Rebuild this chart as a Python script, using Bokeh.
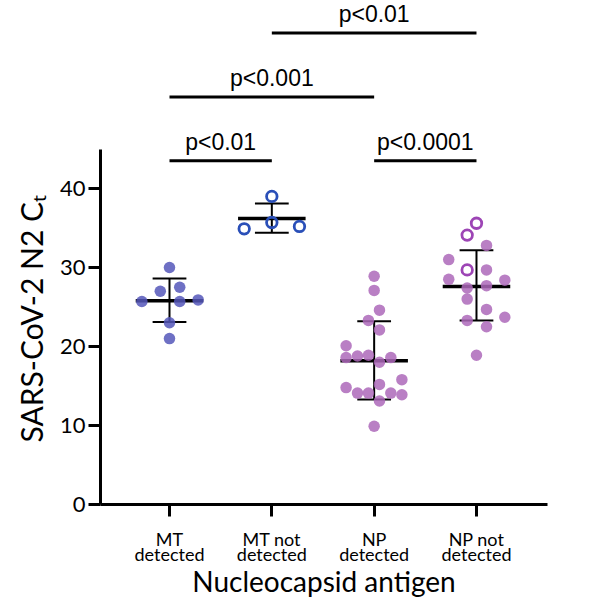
from bokeh.plotting import figure
from bokeh.models import Range1d, FixedTicker, ColumnDataSource, LinearAxis, Title
from bokeh.embed import file_html
from bokeh.resources import INLINE
from bokeh.core.properties import value

# ---- data ----
cat_top = ["MT", "MT not", "NP", "NP not"]
cat_bottom = ["detected", "detected", "detected", "detected"]
cat_pos = [1, 2, 3, 4]

mt_det_ct = [30.0, 27.0, 27.5, 25.7, 25.7, 25.9, 23.0, 21.0]
mt_det_dx = [0.0, -0.09, 0.10, -0.27, 0.10, 0.28, 0.0, 0.0]

mt_not_ct = [39.0, 34.9, 35.7, 35.2]
mt_not_dx = [0.0, -0.27, 0.0, 0.27]

np_det_ct = [28.9, 27.1, 24.6, 23.3, 22.1, 20.1, 18.6, 18.8, 18.9, 18.0,
             18.6, 15.8, 14.8, 14.1, 14.1, 15.2, 14.1, 13.9, 13.1, 9.9]
np_det_dx = [0.0, 0.0, 0.052, -0.056, 0.052, -0.274, -0.274, -0.163, -0.056, 0.052,
             0.163, 0.271, -0.274, -0.163, -0.056, 0.052, 0.163, 0.271, 0.052, 0.0]

np_not_open_ct = [35.6, 34.1, 29.7]
np_not_open_dx = [0.0, -0.091, -0.091]
np_not_ct = [32.8, 31.0, 29.7, 28.5, 28.4, 27.4, 27.7, 26.0, 24.7, 23.3, 23.7, 22.5, 18.9]
np_not_dx = [0.098, -0.271, 0.098, -0.271, 0.277, -0.091, 0.098, -0.091, 0.098, -0.091,
             0.277, 0.098, 0.0]

means = [25.8, 36.2, 18.2, 27.6]
sd_low = [23.1, 34.4, 13.3, 23.3]
sd_high = [28.6, 38.1, 23.2, 32.2]

sig_from = [1, 3, 1, 2]
sig_to = [2, 4, 3, 4]
sig_level = [43.5, 43.5, 51.6, 59.7]
sig_text = ["p<0.01", "p<0.0001", "p<0.001", "p<0.01"]

yticks = [0, 10, 20, 30, 40]

# ---- figure ----
p = figure(width=600, height=601, output_backend="svg", toolbar_location=None,
           x_range=Range1d(0.3257, 4.694), y_range=Range1d(0, 63.8),
           min_border_left=100, min_border_right=53, min_border_top=0, min_border_bottom=90)
p.frame_width = 447
p.frame_height = 504
p.outline_line_color = None
p.grid.visible = False
p.background_fill_color = "white"
p.border_fill_color = "white"

for ax in (p.xaxis[0], p.yaxis[0]):
    ax.axis_line_width = 3
    ax.axis_line_color = "black"
    ax.major_tick_line_width = 3
    ax.major_tick_line_color = "black"
    ax.major_tick_in = 0
    ax.major_tick_out = 12
    ax.minor_tick_line_color = None
    ax.major_label_text_font = "Lato"
    ax.major_label_text_color = "black"

p.yaxis.ticker = FixedTicker(ticks=yticks)
p.yaxis.bounds = (0, 45)
p.yaxis.major_label_text_font_size = "22px"
p.yaxis.major_label_standoff = 3

ytitle = Title(text="SARS-CoV-2 N2 C\u209c", align="left", offset=62, vertical_align="bottom",
               standoff=16, text_font="Lato", text_font_size="30px", text_font_style="normal",
               text_color="black")
p.add_layout(ytitle, "left")

p.xaxis.ticker = FixedTicker(ticks=cat_pos)
p.xaxis.major_label_overrides = {c: lab for c, lab in zip(cat_pos, cat_top)}
p.xaxis.major_label_text_font_size = "18px"
p.xaxis.major_label_standoff = 11

xaxis2 = LinearAxis(ticker=FixedTicker(ticks=cat_pos),
                    major_label_overrides={c: lab for c, lab in zip(cat_pos, cat_bottom)},
                    axis_line_color=None, major_tick_line_color=None, minor_tick_line_color=None,
                    major_tick_in=0, major_tick_out=0, major_label_standoff=-10,
                    major_label_text_font="Lato", major_label_text_font_size="18px",
                    major_label_text_color="black",
                    axis_label="Nucleocapsid antigen", axis_label_standoff=-4,
                    axis_label_text_font="Lato", axis_label_text_font_size="28px",
                    axis_label_text_font_style="normal", axis_label_text_color="black")
p.add_layout(xaxis2, "below")

# mean and SD bars
mw, cw = 0.33, 0.165
p.segment(x0=[c - mw for c in cat_pos], x1=[c + mw for c in cat_pos], y0=means, y1=means,
          line_color="black", line_width=3.5)
p.segment(x0=cat_pos, x1=cat_pos, y0=sd_low, y1=sd_high, line_color="black", line_width=2)
p.segment(x0=[c - cw for c in cat_pos], x1=[c + cw for c in cat_pos], y0=sd_low, y1=sd_low,
          line_color="black", line_width=2)
p.segment(x0=[c - cw for c in cat_pos], x1=[c + cw for c in cat_pos], y0=sd_high, y1=sd_high,
          line_color="black", line_width=2)

def xs(center, dx):
    return [center + d for d in dx]

p.scatter(xs(1, mt_det_dx), mt_det_ct, size=11.5, fill_color="#5557ba", fill_alpha=0.85,
          line_color=None)
p.scatter(xs(2, mt_not_dx), mt_not_ct, size=10.5, fill_alpha=0.0,
          line_color="#2a4fb8", line_width=2.8)
p.scatter(xs(3, np_det_dx), np_det_ct, size=11.5, fill_color="#ad68ba", fill_alpha=0.85,
          line_color=None)
p.scatter(xs(4, np_not_dx), np_not_ct, size=11.5, fill_color="#ad68ba", fill_alpha=0.85,
          line_color=None)
p.scatter(xs(4, np_not_open_dx), np_not_open_ct, size=10.5, fill_alpha=0.0,
          line_color="#9d45b5", line_width=2.8)

# significance bars
p.segment(x0=sig_from, x1=sig_to, y0=sig_level, y1=sig_level, line_color="black", line_width=3)
sig_src = ColumnDataSource(dict(x=[(a + b) / 2 for a, b in zip(sig_from, sig_to)],
                                y=[l + 2.4 for l in sig_level], t=sig_text))
p.text(x="x", y="y", text="t", source=sig_src, text_font=value("Liberation Sans"),
       text_font_size="23px", text_align="center", text_baseline="middle", text_color="black")

open("out.html", "w").write(file_html(p, INLINE))
